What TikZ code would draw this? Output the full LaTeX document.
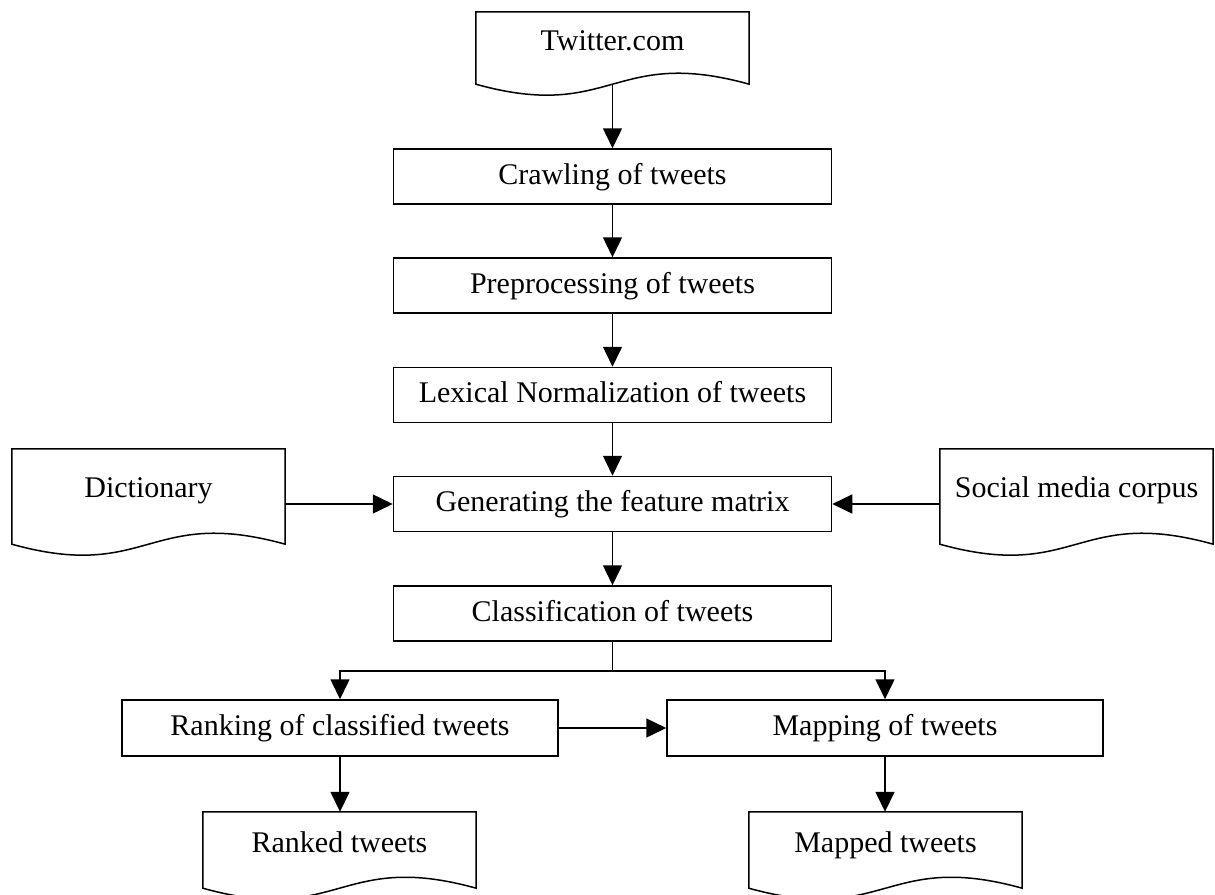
\documentclass[tikz,border=0pt]{standalone}
\usepackage{fontspec}
\setmainfont{Liberation Serif}
\usetikzlibrary{arrows.meta,calc}
\tikzset{
  x=1pt,y=1pt,
  every node/.style={font=\fontsize{30}{34}\selectfont, text height=21pt, text depth=6pt, inner sep=0pt},
  procbox/.style={draw, line width=1.5pt, minimum width=438pt, minimum height=55pt},
  sidebox/.style={draw, line width=1.5pt, minimum width=436pt, minimum height=56pt},
  docnode/.style={minimum width=273pt},
  docline/.style={draw, line width=1.5pt, line join=miter},
  arr/.style={line width=1.5pt, -{Triangle[length=20pt,width=19pt]}},
  plainline/.style={line width=1.5pt}
}
\newcommand{\docoutline}[2]{%
  \draw[docline] (#1.north west) -- ($(#1.south west)+(0,-#2)$)
    .. controls ($(#1.south)+(0,-#2-38)$) and ($(#1.south)+(0,-#2+38)$) ..
    ($(#1.south east)+(0,-#2)$) -- (#1.north east) -- cycle;}
\begin{document}
\begin{tikzpicture}
\useasboundingbox (0,0) rectangle (1215,-894);
% documents
\node[docnode, minimum height=62pt] (tw) at (612.5,-43) {Twitter.com};
\node[docnode, minimum height=82pt] (dict) at (148.5,-490) {Dictionary};
\node[docnode, minimum height=82pt] (soc) at (1076.5,-490) {Social media corpus};
\node[docnode, minimum height=66pt] (ranked) at (339.5,-845) {Ranked tweets};
\node[docnode, minimum height=66pt] (mapped) at (885.5,-845) {Mapped tweets};
\docoutline{tw}{10}
\docoutline{dict}{13}
\docoutline{soc}{13}
\docoutline{ranked}{10}
\docoutline{mapped}{10}
% process boxes
\node[procbox] (crawl) at (612.5,-176.5) {Crawling of tweets};
\node[procbox] (prep) at (612.5,-285.5) {Preprocessing of tweets};
\node[procbox] (lex) at (612.5,-395) {Lexical Normalization of tweets};
\node[procbox] (gen) at (612.5,-504) {Generating the feature matrix};
\node[procbox] (class) at (612.5,-613.5) {Classification of tweets};
\node[sidebox] (rank) at (340,-728) {Ranking of classified tweets};
\node[sidebox] (map) at (885,-728) {Mapping of tweets};
\coordinate (twout) at ($(tw.south)+(0,-10)$);
\coordinate (br) at (612.5,-671);
% connectors
\draw[arr] (twout) -- (crawl.north);
\draw[arr] (crawl) -- (prep);
\draw[arr] (prep) -- (lex);
\draw[arr] (lex) -- (gen);
\draw[arr] (gen) -- (class);
\draw[arr] (gen.west -| dict.east) -- (gen.west);
\draw[arr] (gen.east -| soc.west) -- (gen.east);
\draw[plainline] (class.south) -- (br);
\draw[arr] (br) -| (rank.north);
\draw[arr] (br) -| (map.north);
\draw[arr] (rank) -- (map);
\draw[arr] (rank.south) -- (rank.south |- ranked.north);
\draw[arr] (map.south) -- (map.south |- mapped.north);
\end{tikzpicture}
\end{document}
